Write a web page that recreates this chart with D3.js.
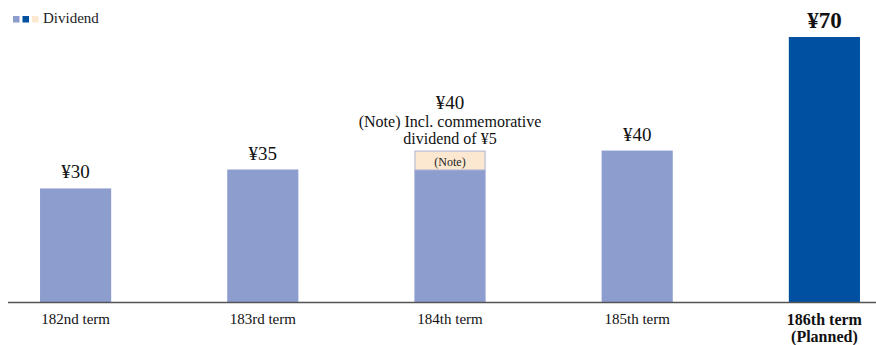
<!DOCTYPE html>
<html>
<head>
<meta charset="utf-8">
<script src="https://cdn.jsdelivr.net/npm/d3@7"></script>
<style>
  html, body { margin: 0; padding: 0; background: #fff; }
  svg { display: block; }
  svg text { font-family: "Liberation Serif", "Times New Roman", "DejaVu Serif", serif; }
</style>
</head>
<body>
<div id="chart"></div>
<script>
// data
const terms = ['182nd term', '183rd term', '184th term', '185th term', '186th term'];
const dividends = [30, 35, 35, 40, 70];      // ordinary dividend (bar body)
const commemorative = [0, 0, 5, 0, 0];        // stacked note part
const valueLabels = ['¥30', '¥35', '¥40', '¥40', '¥70'];
const planned = [false, false, false, false, true];

const width = 876, height = 345;
const baseY = 302;
const serif = '"Liberation Serif", "Times New Roman", serif';

const svg = d3.select('#chart').append('svg')
  .attr('width', width)
  .attr('height', height)
  .attr('font-family', serif);

// scales
const x = d3.scaleBand()
  .domain(terms)
  .range([-18, 918])
  .paddingInner(0.62)
  .paddingOuter(0.31);

const y = d3.scaleLinear()
  .domain([0, 70])
  .range([baseY, 37]);

const rows = terms.map((t, i) => ({
  term: t, base: dividends[i], extra: commemorative[i],
  label: valueLabels[i], planned: planned[i]
}));

// bars
svg.append('g').selectAll('rect')
  .data(rows)
  .join('rect')
  .attr('x', d => x(d.term))
  .attr('y', d => y(d.base))
  .attr('width', x.bandwidth())
  .attr('height', d => baseY - y(d.base))
  .attr('fill', d => d.planned ? '#0050a2' : '#8c9dce');

// commemorative part
const extras = rows.filter(d => d.extra > 0);
svg.append('g').selectAll('rect')
  .data(extras)
  .join('rect')
  .attr('x', d => x(d.term) + 0.5)
  .attr('y', d => y(d.base + d.extra) + 0.5)
  .attr('width', x.bandwidth() - 1)
  .attr('height', d => y(d.base) - y(d.base + d.extra))
  .attr('fill', '#fce8d0')
  .attr('stroke', '#a9b3d6')
  .attr('stroke-width', 1);

svg.append('g').selectAll('text')
  .data(extras)
  .join('text')
  .attr('x', d => x(d.term) + x.bandwidth() / 2)
  .attr('y', d => y(d.base) - 4)
  .attr('text-anchor', 'middle')
  .style('font-family', serif)
  .style('font-size', '12px')
  .style('fill', '#222')
  .text('(Note)');

// value labels
svg.append('g').selectAll('text')
  .data(rows.filter(d => d.extra === 0))
  .join('text')
  .attr('x', d => x(d.term) + x.bandwidth() / 2)
  .attr('y', d => y(d.base) - (d.planned ? 9 : 10))
  .attr('text-anchor', 'middle')
  .style('font-family', serif)
  .style('font-size', d => d.planned ? '23px' : '19px')
  .style('font-weight', d => d.planned ? 'bold' : 'normal')
  .style('fill', '#111')
  .text(d => d.label);

// annotation for 184th term
const note = rows[2];
const nx = x(note.term) + x.bandwidth() / 2;
const noteText = svg.append('text')
  .attr('text-anchor', 'middle')
  .style('font-family', serif)
  .style('fill', '#111');
noteText.append('tspan').attr('x', nx).attr('y', 109)
  .style('font-size', '19px').text(note.label);
noteText.append('tspan').attr('x', nx).attr('y', 127)
  .style('font-size', '16px').text('(Note) Incl. commemorative');
noteText.append('tspan').attr('x', nx).attr('y', 144)
  .style('font-size', '16px').text('dividend of ¥5');

// axis line
svg.append('line')
  .attr('x1', 8).attr('x2', width)
  .attr('y1', baseY + 0.5).attr('y2', baseY + 0.5)
  .attr('stroke', '#555')
  .attr('stroke-width', 1.5);

// category labels
const ticks = svg.append('g').selectAll('text')
  .data(rows.filter(d => !d.planned))
  .join('text')
  .attr('text-anchor', 'middle')
  .attr('x', d => x(d.term) + x.bandwidth() / 2)
  .attr('y', 324)
  .style('font-family', serif)
  .style('font-size', '15px')
  .style('fill', '#111')
  .text(d => d.term);

// planned term label, two lines
const plannedRow = rows.find(d => d.planned);
const px = x(plannedRow.term) + x.bandwidth() / 2;
svg.append('g').selectAll('text')
  .data([plannedRow.term, '(Planned)'])
  .join('text')
  .attr('text-anchor', 'middle')
  .attr('x', px)
  .attr('y', (d, i) => 325 + i * 17)
  .style('font-family', serif)
  .style('font-size', '16px')
  .style('font-weight', 'bold')
  .style('fill', '#111')
  .text(d => d);

// legend
const legend = svg.append('g').attr('transform', 'translate(13,16)');
legend.selectAll('rect')
  .data(['#8c9dce', '#0050a2', '#fce8d0'])
  .join('rect')
  .attr('x', (d, i) => i * 9.5)
  .attr('y', 0)
  .attr('width', 6.5)
  .attr('height', 6.5)
  .attr('fill', d => d);
legend.append('text')
  .attr('x', 30)
  .attr('y', 6.5)
  .style('font-family', serif)
  .style('font-size', '15px')
  .style('fill', '#222')
  .text('Dividend');
</script>
</body>
</html>
